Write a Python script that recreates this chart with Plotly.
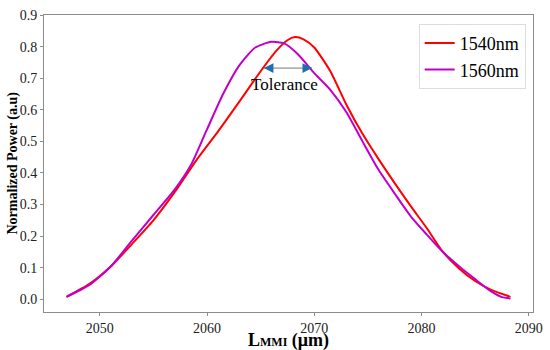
import plotly.graph_objects as go

# ---- data ----
x_1540 = [2046.9, 2049.0, 2051.0, 2053.0, 2055.0, 2057.0, 2059.0, 2061.0, 2063.0, 2065.0,
          2066.5, 2067.5, 2068.2, 2069.0, 2070.0, 2071.5, 2073.0, 2074.5, 2076.0, 2077.5,
          2079.0, 2080.5, 2082.0, 2083.5, 2085.0, 2086.5, 2088.3]
y_1540 = [0.008, 0.048, 0.103, 0.175, 0.250, 0.340, 0.440, 0.530, 0.625, 0.722,
          0.788, 0.820, 0.830, 0.823, 0.797, 0.722, 0.616, 0.524, 0.444, 0.368,
          0.295, 0.225, 0.150, 0.098, 0.058, 0.030, 0.008]

x_1560 = [2046.9, 2049.0, 2051.0, 2053.0, 2055.0, 2057.0, 2058.5, 2060.0, 2061.5, 2063.0,
          2064.5, 2066.0, 2067.2, 2068.5, 2070.0, 2071.5, 2073.0, 2074.5, 2076.0, 2077.5,
          2079.0, 2080.5, 2082.0, 2083.5, 2085.0, 2086.5, 2087.5, 2088.3]
y_1560 = [0.008, 0.045, 0.103, 0.186, 0.267, 0.348, 0.425, 0.538, 0.650, 0.740,
          0.797, 0.815, 0.810, 0.775, 0.716, 0.663, 0.592, 0.500, 0.410, 0.335,
          0.263, 0.205, 0.150, 0.105, 0.064, 0.025, 0.007, 0.003]

series_names = ["1540nm", "1560nm"]
x_ticks = [2050, 2060, 2070, 2080, 2090]
y_ticks = [0.0, 0.1, 0.2, 0.3, 0.4, 0.5, 0.6, 0.7, 0.8, 0.9]

tol_start, tol_end, tol_y = 2065.3, 2069.8, 0.732
tol_label_x, tol_label_y = 2067.2, 0.679

FONT = "Liberation Serif, Times New Roman, serif"
AXIS_COLOR = "#8c8c8c"

fig = go.Figure()
fig.add_trace(go.Scatter(x=x_1540, y=y_1540, mode="lines", name=series_names[0],
                         line=dict(color="#ff0000", width=2, shape="spline", smoothing=0.6)))
fig.add_trace(go.Scatter(x=x_1560, y=y_1560, mode="lines", name=series_names[1],
                         line=dict(color="#c000c8", width=2, shape="spline", smoothing=0.6)))

# tolerance arrow: gray shaft + blue heads
fig.add_shape(type="line", x0=tol_start, x1=tol_end, y0=tol_y, y1=tol_y,
              line=dict(color="#777777", width=1))
for xh, ax in [(tol_start, 7), (tol_end, -7)]:
    fig.add_annotation(x=xh, y=tol_y, ax=ax, ay=0, text="", showarrow=True,
                       arrowhead=2, arrowsize=1.6, arrowwidth=1.2,
                       arrowcolor="#1f6fb0", standoff=0)
fig.add_annotation(x=tol_label_x, y=tol_label_y, text="Tolerance", showarrow=False,
                   font=dict(family=FONT, size=17, color="black"))

# axis titles
fig.add_annotation(xref="paper", yref="paper", x=0.5, y=0, yshift=-28,
                   xanchor="center", yanchor="middle", showarrow=False,
                   text="<b>L<span style=\"font-size:12px\">MMI</span> (μm)</b>",
                   font=dict(family=FONT, size=18, color="black"))
fig.add_annotation(xref="paper", yref="paper", x=0, y=0.5, xshift=-32,
                   xanchor="center", yanchor="middle", showarrow=False, textangle=-90,
                   text="<b>Normalized Power (a.u)</b>",
                   font=dict(family=FONT, size=14, color="black"))

axis_common = dict(showline=True, linecolor=AXIS_COLOR, linewidth=1, mirror=True,
                   ticks="outside", ticklen=3, tickcolor=AXIS_COLOR,
                   showgrid=False, zeroline=False, automargin=False,
                   tickfont=dict(family=FONT, size=14, color="#222222"))

fig.update_xaxes(range=[2044.8, 2090.4], tickvals=x_ticks, **axis_common)
fig.update_yaxes(range=[-0.040, 0.9], tickvals=y_ticks, tickformat=".1f", **axis_common)

fig.update_layout(
    width=550, height=350,
    margin=dict(l=44, r=17, t=15, b=38),
    paper_bgcolor="white", plot_bgcolor="white",
    showlegend=True,
    legend=dict(x=0.985, y=0.97, xanchor="right", yanchor="top",
                bgcolor="white", bordercolor="#dddddd", borderwidth=1,
                font=dict(family=FONT, size=18, color="black")),
)

fig.write_html("out.html", config={"displayModeBar": False},
               post_script="document.body.style.margin='0';document.body.style.padding='0';")
